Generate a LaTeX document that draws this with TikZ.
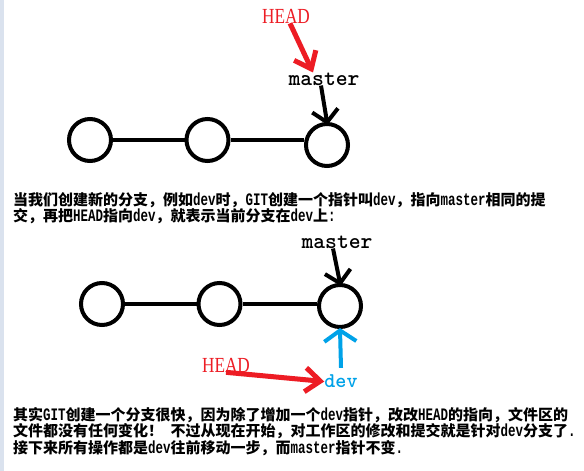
\documentclass[tikz,border=0pt]{standalone}
\usepackage{fontspec}
\usetikzlibrary{arrows.meta}
\newfontfamily\cjk{Noto Sans CJK SC}
\newfontfamily\lat[Scale=0.8333]{Liberation Mono}
\newfontfamily\headfont{Liberation Serif}
\newcommand\en[1]{\scalebox{1}[1.4]{\lat\bfseries #1}}
\definecolor{pred}{RGB}{237,28,36}
\definecolor{pblue}{RGB}{0,162,232}
\definecolor{stripc}{RGB}{218,226,238}
\begin{document}
\begin{tikzpicture}[x=1pt,y=-1pt,
  commit/.style={circle, draw, line width=4pt, minimum size=42pt, inner sep=0pt},
  link/.style={line width=4pt},
  ptr/.style={line width=4pt, -{Straight Barb[length=12pt,width=26pt,line width=4pt]}},
  headptr/.style={pred, line width=5pt, -{Straight Barb[length=15pt,width=24pt,line width=5pt]}},
  devptr/.style={pblue, line width=4pt, -{Straight Barb[length=11pt,width=32pt,line width=4pt]}},
  headlbl/.style={text=pred, font=\headfont\fontsize{21.5}{21.5}\selectfont, inner sep=0pt},
  mlbl/.style={font=\ttfamily\bfseries\fontsize{22.5}{22.5}\selectfont, inner sep=0pt},
  devlbl/.style={text=pblue, font=\ttfamily\bfseries\fontsize{21}{21}\selectfont, inner sep=0pt},
  txt/.style={font=\cjk\bfseries\fontsize{15}{15}\selectfont, anchor=base west, inner sep=0pt}]
\fill[white] (0,0) rectangle (584,471);
\useasboundingbox (0,0) rectangle (584,471);
\fill[stripc] (0,0) rectangle (4,471);

% top diagram
\node[commit] (c1) at (90,140) {};
\node[commit] (c2) at (207.5,140) {};
\node[commit] (c3) at (327,145) {};
\draw[link] (c1) -- (c2);
\draw[link] (c2) -- (c2 -| c3.west);
\node[headlbl] (hd1) at (286,16) {\scalebox{0.8}[1]{HEAD}};
\node[mlbl] (m1) at (324,79) {master};
\draw[headptr] ([xshift=4pt]hd1.south) -- ([xshift=-11pt]m1.north);
\draw[ptr, shorten >=-3pt] ([xshift=-3pt]m1.south) -- (c3.north);

% text 1
\node[txt] (t1) at (13,205) {当我们创建新的分支，例如\en{dev}时，\en{GIT}创建一个指针叫\en{dev}，指向\en{master}相同的提};
\node[txt] (t2) at (13,221) {交，再把\en{HEAD}指向\en{dev}，就表示当前分支在\en{dev}上\en{:}};

% bottom diagram
\node[commit] (d1) at (102,304) {};
\node[commit] (d2) at (219.5,304) {};
\node[commit] (d3) at (340,306) {};
\draw[link] (d1) -- (d2);
\draw[link] (d2) -- (d2 -| d3.west);
\node[mlbl] (m2) at (337,242) {master};
\draw[ptr, shorten >=-3pt] ([xshift=-4pt]m2.south) -- (d3.north);
\node[devlbl] (dv) at (341,381.5) {dev};
\draw[devptr, shorten >=-1pt] ([yshift=7pt]dv.north) -- (d3.south);
\node[headlbl] (hd2) at (226,365) {\scalebox{0.8}[1]{HEAD}};
\draw[headptr] (hd2.south) -- (dv.west);

% text 2
\node[txt] (t3) at (13,420) {其实\en{GIT}创建一个分支很快，因为除了增加一个\en{dev}指针，改改\en{HEAD}的指向，文件区的};
\node[txt] (t4) at (13,436.5) {文件都没有任何变化！\hspace{7.5pt}不过从现在开始，对工作区的修改和提交就是针对\en{dev}分支了\en{.}};
\node[txt] (t5) at (13,453) {接下来所有操作都是\en{dev}往前移动一步，而\en{master}指针不变\en{.}};
\end{tikzpicture}
\end{document}
